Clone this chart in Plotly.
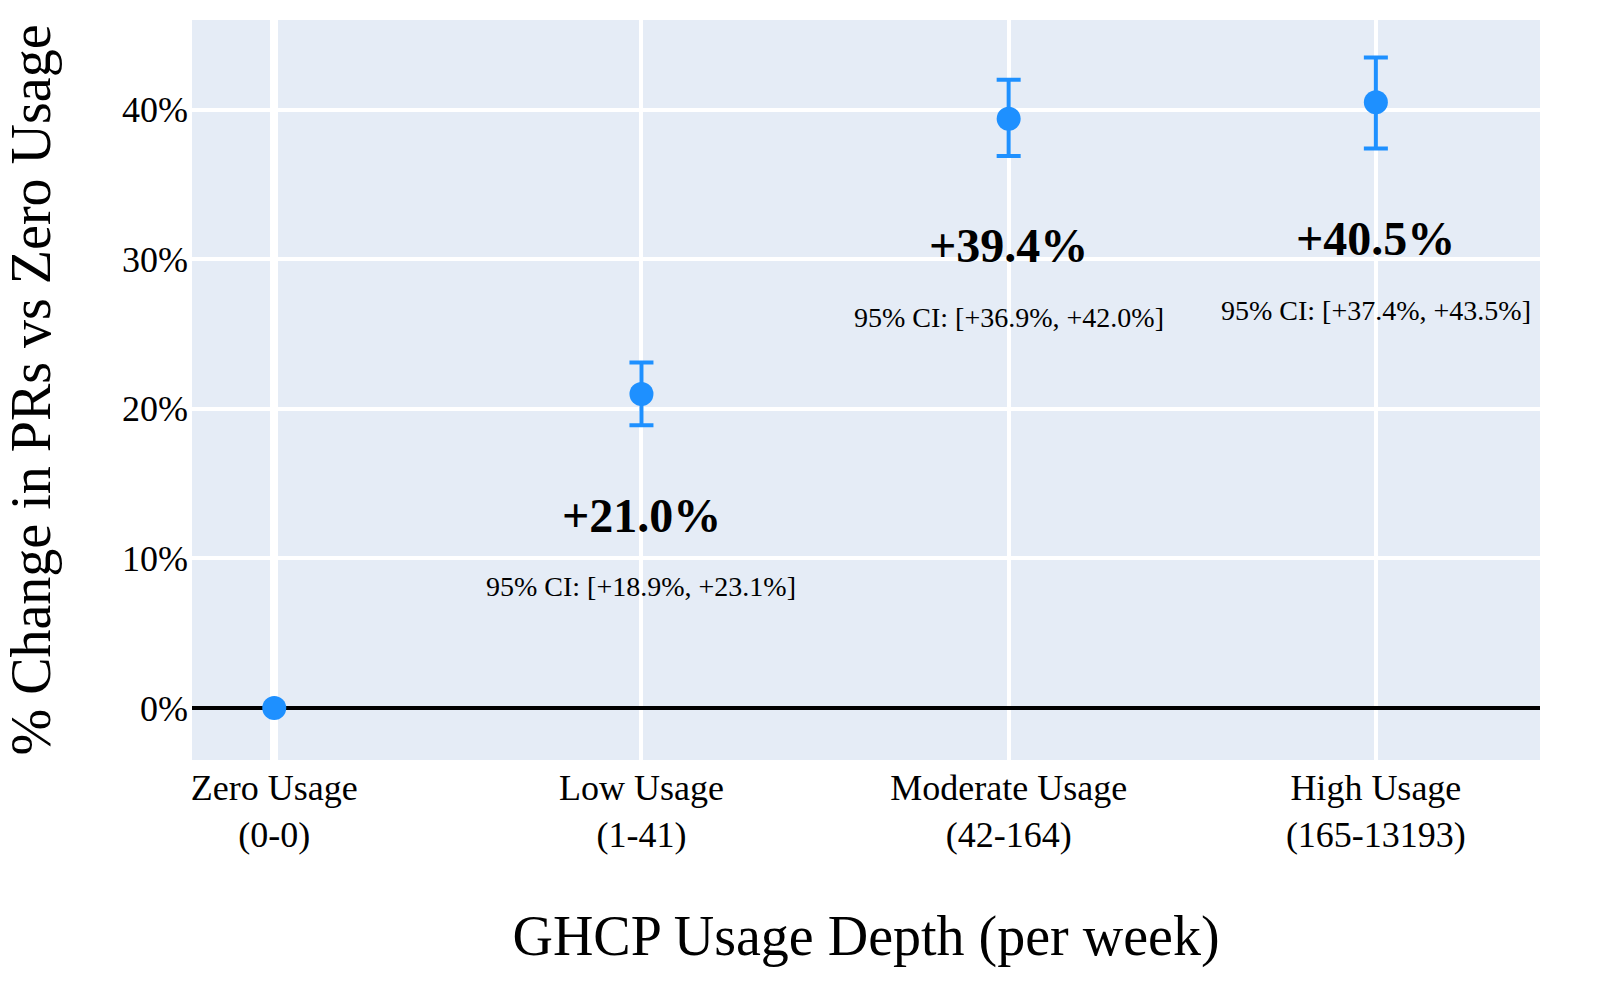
import plotly.graph_objects as go

categories = ["Zero Usage<br>(0-0)", "Low Usage<br>(1-41)", "Moderate Usage<br>(42-164)", "High Usage<br>(165-13193)"]
pct_change = [0.0, 21.0, 39.4, 40.5]
ci_low = [0.0, 18.9, 36.9, 37.4]
ci_high = [0.0, 23.1, 42.0, 43.5]
y_ticks = [0, 10, 20, 30, 40]
y_tick_labels = ["0%", "10%", "20%", "30%", "40%"]

xpos = list(range(len(categories)))
FONT = "Times New Roman, Liberation Serif, serif"
BLUE = "#1E90FF"

fig = go.Figure()

# zero usage point (no error bar)
fig.add_trace(go.Scatter(
    x=[xpos[0]], y=[pct_change[0]], mode="markers",
    marker=dict(color=BLUE, size=24), showlegend=False,
))

fig.add_trace(go.Scatter(
    x=xpos[1:], y=pct_change[1:], mode="markers",
    marker=dict(color=BLUE, size=24),
    error_y=dict(type="data", symmetric=False,
                 array=[h - v for h, v in zip(ci_high[1:], pct_change[1:])],
                 arrayminus=[v - l for v, l in zip(pct_change[1:], ci_low[1:])],
                 color=BLUE, thickness=4, width=12),
    showlegend=False,
))

for i in range(1, len(categories)):
    fig.add_annotation(x=xpos[i], y=ci_low[i] - 6.0, text=f"<b>+{pct_change[i]:.1f}%</b>",
                       showarrow=False, font=dict(family=FONT, size=48, color="black"))
    fig.add_annotation(x=xpos[i], y=ci_low[i] - 10.8,
                       text=f"95% CI: [+{ci_low[i]:.1f}%, +{ci_high[i]:.1f}%]",
                       showarrow=False, font=dict(family=FONT, size=28, color="black"))

fig.update_layout(
    width=1600, height=1000,
    margin=dict(l=192, r=60, t=20, b=240),
    paper_bgcolor="white", plot_bgcolor="#E5ECF6",
    font=dict(family=FONT, size=36, color="black"),
    xaxis=dict(
        tickmode="array", tickvals=xpos, ticktext=categories,
        range=[-0.224, 3.447], showgrid=True, gridcolor="white", gridwidth=4,
        zeroline=True, zerolinecolor="white", zerolinewidth=8,
        ticklabelstandoff=3,
        title=dict(text="GHCP Usage Depth (per week)", font=dict(size=56, family=FONT), standoff=62),
        tickfont=dict(size=36, family=FONT),
    ),
    yaxis=dict(
        tickmode="array", tickvals=y_ticks, ticktext=y_tick_labels,
        range=[-3.48, 46.0], showgrid=True, gridcolor="white", gridwidth=4,
        zeroline=True, zerolinecolor="black", zerolinewidth=4,
        ticklabelstandoff=3,
        title=dict(text="% Change in PRs vs Zero Usage", font=dict(size=56, family=FONT), standoff=55),
        tickfont=dict(size=36, family=FONT),
    ),
)

fig.write_html("out.html")
